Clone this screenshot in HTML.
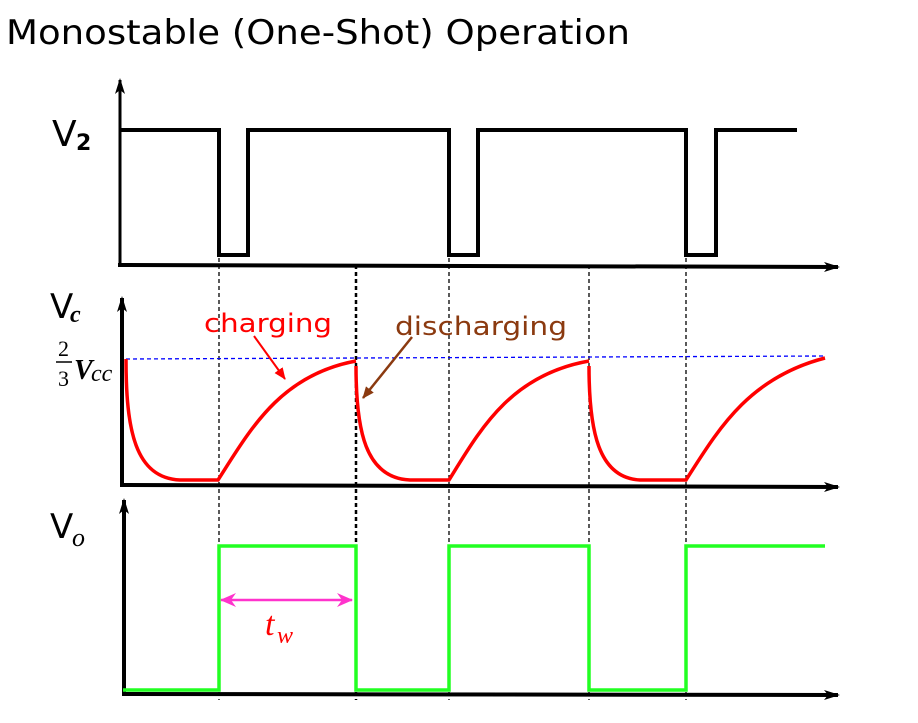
<!DOCTYPE html>
<html><head><style>body{margin:0;background:#fff}</style></head><body>
<svg width="918" height="718" xmlns="http://www.w3.org/2000/svg" font-family="'DejaVu Sans',sans-serif">
<defs>
<marker id="ah" markerWidth="16" markerHeight="10" refX="14" refY="5" orient="auto" markerUnits="userSpaceOnUse"><path d="M0,0 L16,5 L0,10 L4,5z" fill="#000"/></marker>
<marker id="ahr" markerWidth="12" markerHeight="10" refX="11" refY="5" orient="auto" markerUnits="userSpaceOnUse"><path d="M0,0 L12,5 L0,10z" fill="#f00"/></marker>
<marker id="ahb" markerWidth="12" markerHeight="10" refX="11" refY="5" orient="auto" markerUnits="userSpaceOnUse"><path d="M0,0 L12,5 L0,10z" fill="#8b3a10"/></marker>
<marker id="ahp" markerWidth="16" markerHeight="14" refX="15" refY="7" orient="auto" markerUnits="userSpaceOnUse"><path d="M0,0 L16,7 L0,14 L5,7z" fill="#f3c"/></marker>
</defs>
<text x="6" y="44" font-size="34" fill="#000" textLength="624" lengthAdjust="spacingAndGlyphs">Monostable (One-Shot) Operation</text>
<g stroke="#000" stroke-width="1.3" stroke-dasharray="4,3">
<line x1="219" y1="258" x2="219" y2="700"/><line x1="356" y1="265" x2="356" y2="700" stroke-width="2.5"/>
<line x1="449" y1="258" x2="449" y2="700"/><line x1="589" y1="265" x2="589" y2="700"/>
<line x1="686" y1="258" x2="686" y2="700"/>
</g>
<text x="52" y="146" font-size="36">V</text><text x="76" y="150" font-size="22" font-weight="bold">2</text>
<line x1="120" y1="266" x2="120" y2="80" stroke="#000" stroke-width="3" marker-end="url(#ah)"/>
<line x1="118" y1="265" x2="838" y2="267" stroke="#000" stroke-width="4" marker-end="url(#ah)"/>
<polyline fill="none" stroke="#000" stroke-width="4" points="121,130 219,130 219,255 248,255 248,130 449,130 449,255 478,255 478,130 686,130 686,255 716,255 716,130 797,130"/>
<text x="50" y="318" font-size="34">V</text><text x="70" y="322" font-size="24" font-style="italic" font-weight="bold" font-family="'Liberation Serif',serif">c</text>
<line x1="122" y1="487" x2="122" y2="298" stroke="#000" stroke-width="4" marker-end="url(#ah)"/>
<line x1="120" y1="485" x2="838" y2="487" stroke="#000" stroke-width="4" marker-end="url(#ah)"/>
<g font-family="'Liberation Serif',serif"><text x="58" y="356" font-size="22">2</text><line x1="56" y1="362" x2="72" y2="362" stroke="#000" stroke-width="1.5"/><text x="58" y="386" font-size="22">3</text>
<text x="74" y="379" font-size="28" font-style="italic" font-weight="bold">V</text><text x="91" y="381" font-size="24" font-style="italic">cc</text></g>
<line x1="126" y1="359" x2="825" y2="356" stroke="#00f" stroke-width="1.3" stroke-dasharray="4,3"/>
<g fill="none" stroke="#f00" stroke-width="3.5">
<path d="M126,359 C126,430 135,478 180,480 L218,480 C250,430 280,375 356,361"/>
<path d="M356,366 C356,430 365,478 410,480 L449,480 C480,430 510,375 589,361"/>
<path d="M589,366 C589,430 598,478 640,480 L686,480 C718,430 748,378 825,358"/>
</g>
<text x="204" y="332" font-size="26" fill="#f00" textLength="128" lengthAdjust="spacingAndGlyphs">charging</text>
<line x1="254" y1="336" x2="285" y2="379" stroke="#f00" stroke-width="2" marker-end="url(#ahr)"/>
<text x="395" y="335" font-size="26" fill="#8b3a10" textLength="172" lengthAdjust="spacingAndGlyphs">discharging</text>
<line x1="412" y1="337" x2="363" y2="398" stroke="#8b3a10" stroke-width="2.5" marker-end="url(#ahb)"/>
<text x="50" y="538" font-size="34">V</text><text x="72" y="546" font-size="26" font-style="italic" font-family="'Liberation Serif',serif">o</text>
<line x1="124" y1="694" x2="124" y2="500" stroke="#000" stroke-width="4" marker-end="url(#ah)"/>
<line x1="122" y1="694" x2="838" y2="695" stroke="#000" stroke-width="4" marker-end="url(#ah)"/>
<polyline fill="none" stroke="#2f2" stroke-width="3.5" points="123,690 219,690 219,546 356,546 356,690 449,690 449,546 589,546 589,690 686,690 686,546 825,546"/>
<line x1="236" y1="600" x2="221" y2="600" stroke="#f3c" stroke-width="2.5" marker-end="url(#ahp)"/>
<line x1="236" y1="600" x2="352" y2="600" stroke="#f3c" stroke-width="2.5" marker-end="url(#ahp)"/>
<text x="265" y="635" font-size="34" fill="#f00" font-style="italic" font-family="'Liberation Serif',serif">t</text>
<text x="277" y="643" font-size="24" fill="#f00" font-style="italic" font-family="'Liberation Serif',serif">w</text>
</svg>
</body></html>
